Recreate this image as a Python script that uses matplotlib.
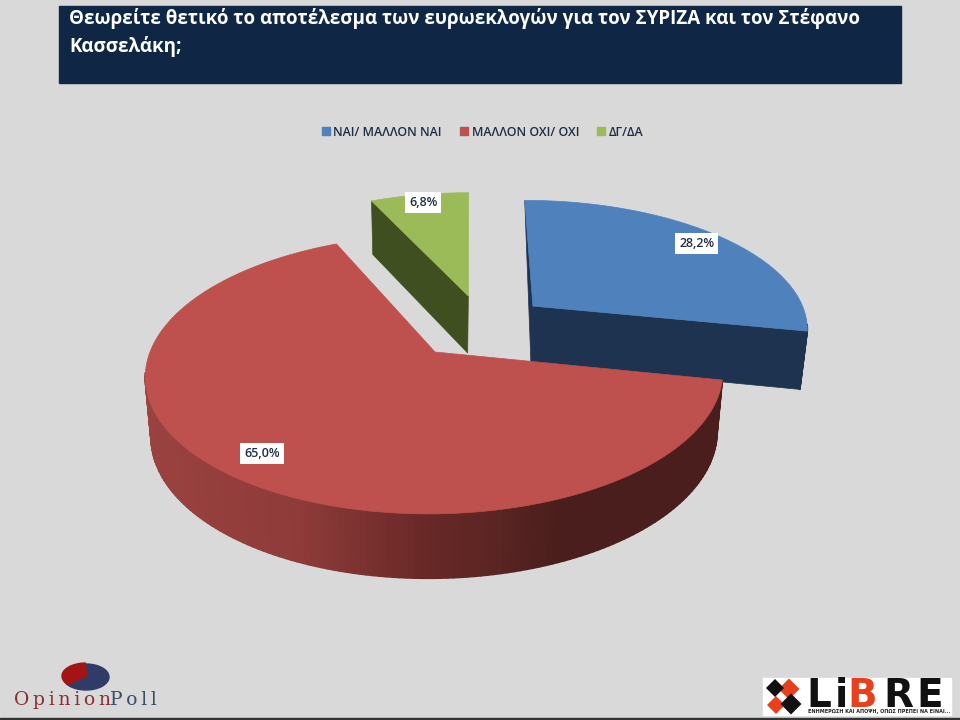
import numpy as np
import matplotlib
matplotlib.use("Agg")
import matplotlib.pyplot as plt
from matplotlib.collections import PolyCollection
from matplotlib.colors import LinearSegmentedColormap
from matplotlib.patches import Ellipse, Patch, Polygon, Rectangle

title = "Θεωρείτε θετικό το αποτέλεσμα των ευρωεκλογών για τον ΣΥΡΙΖΑ και τον Στέφανο\nΚασσελάκη;"
categories = ["ΝΑΙ/ ΜΑΛΛΟΝ ΝΑΙ", "ΜΑΛΛΟΝ ΟΧΙ/ ΟΧΙ", "ΔΓ/ΔΑ"]
values = [28.2, 65.0, 6.8]
labels = ["28,2%", "65,0%", "6,8%"]

top_colors = ["#4f81bd", "#be504d", "#9bbb59"]
side_colors = ["#1d3350", "#4d1f1d", "#3f4f20"]
# slice offsets in the plane of the pie, and where the label sits along the radius
offsets = [(0.356, 0.357), (0.0, 0.0), (0.1164, 0.441)]
label_r = [0.875, 0.85, 0.91]

BG = "#d9d9d9"
NAVY = "#0f2744"
INK = "#1f2d45"

# pie projection, pixels
CX, CY = 435, 352
RX, RY = 285, 136
K = 0.16
SKEW = 0.02
DEPTH = 59
SHRINK = 0.98


def project(u, v):
    w = 1 + K * v
    return CX + RX * (u + SKEW * v) / w, CY - RY * v / w


def lower(u, v):
    # same point on the underside of the pie
    x, y = project(u, v)
    return CX + (x - CX) * SHRINK, y + DEPTH / np.sqrt(1 + K * v)


def rim(theta, off):
    return np.sin(theta) + off[0], np.cos(theta) + off[1]


def diamond(cx, cy, r):
    return [(cx - r, cy), (cx, cy - r), (cx + r, cy), (cx, cy + r)]


fig = plt.figure(figsize=(9.6, 7.2), dpi=100, facecolor=BG)
ax = fig.add_axes([0, 0, 1, 1])
ax.set_xlim(0, 960)
ax.set_ylim(720, 0)
ax.axis("off")

# header
ax.add_patch(Rectangle((59, 6), 842, 77, color=NAVY, zorder=1))
ax.text(69, 8, title, color="white", fontsize=13.5, fontweight="bold", family="Open Sans",
        va="top", ha="left", linespacing=1.42, zorder=2)

# legend
handles = [Patch(color=c, label=n) for c, n in zip(top_colors, categories)]
ax.legend(handles=handles, ncol=3, loc="center", bbox_to_anchor=(482.5, 132),
          bbox_transform=ax.transData, frameon=False, handlelength=0.65, handleheight=0.65,
          handletextpad=0.3, columnspacing=1.45,
          prop={"family": "Open Sans", "size": 8.9, "weight": "semibold"},
          labelcolor=INK)

# pie
edges = np.cumsum([0] + values) / sum(values) * 2 * np.pi
red_wall = LinearSegmentedColormap.from_list(
    "wall", [(0, "#9a4240"), (0.27, "#8e3b39"), (0.5, "#672826"), (0.62, "#5a2523"), (0.72, "#4a1e1c"), (1, "#4a1e1c")])


def draw_slice(i, z):
    t0, t1 = edges[i], edges[i + 1]
    off = offsets[i]
    thetas = np.linspace(t0, t1, 200)
    us, vs = rim(thetas, off)
    xt, yt = project(us, vs)
    xb, yb = lower(us, vs)
    ax0, ay0 = project(off[0], off[1])
    bx0, by0 = lower(off[0], off[1])

    # cut faces
    if i == 0:
        ax.add_patch(Polygon([(ax0, ay0), (xt[0], yt[0]), (bx0, by0)], color=side_colors[i], lw=0.5, zorder=z))
        ax.add_patch(Polygon([(ax0, ay0), (xt[-1], yt[-1]), (xb[-1], yb[-1]), (bx0, by0)],
                             color=side_colors[i], lw=0.5, zorder=z))
    elif i == 2:
        ax.add_patch(Polygon([(ax0, ay0), (xt[0], yt[0]), (xb[0], yb[0]), (bx0, by0)],
                             color=side_colors[i], lw=0.5, zorder=z))

    # outer wall, only the part that faces the viewer
    front = np.flatnonzero(np.cos(thetas) < -K + 0.02)
    if len(front) > 1:
        strips = [[(xt[j], yt[j]), (xt[j + 1], yt[j + 1]), (xb[j + 1], yb[j + 1]), (xb[j], yb[j])]
                  for j in front[:-1]]
        if i == 1:
            cols = red_wall((xt[front[:-1]] - xt.min()) / (xt.max() - xt.min()))
        else:
            cols = side_colors[i]
        ax.add_collection(PolyCollection(strips, facecolors=cols, edgecolors=cols, linewidths=1.2, zorder=z))

    # top
    ax.add_patch(Polygon(np.r_[[(ax0, ay0)], np.c_[xt, yt]], color=top_colors[i], lw=0.5, zorder=z + 1))


for i, z in zip([2, 0, 1], [3, 5, 7]):
    draw_slice(i, z)

mids = (edges[:-1] + edges[1:]) / 2
for i, txt in enumerate(labels):
    u = offsets[i][0] + label_r[i] * np.sin(mids[i])
    v = offsets[i][1] + label_r[i] * np.cos(mids[i])
    x, y = project(u, v)
    ax.text(x, y, txt, color=INK, fontsize=9, fontweight="semibold", family="Open Sans", ha="center", va="center",
            bbox=dict(facecolor="white", edgecolor="none", pad=2.9), zorder=10)

# OpinionPoll logo
ax.add_patch(Ellipse((86, 677), 46, 26, color="#2f3c68", zorder=2))
arc = np.radians(np.linspace(92, 222, 40))
ax.add_patch(Polygon(np.r_[[(86.5, 676)], np.c_[86 + 24 * np.cos(arc), 676 - 13 * np.sin(arc)]],
                     color="#a31515", zorder=3))
ax.text(14, 705, "O\u2009p\u2009i\u2009n\u2009i\u2009o\u2009n", color="#8b2f2f", fontsize=13.5,
        family="DejaVu Serif", va="baseline")
ax.text(110, 705, "P\u2009o\u2009l\u2009l", color="#3a4a6b", fontsize=13.5, family="DejaVu Serif", va="baseline")

# LiBRE logo
ax.add_patch(Rectangle((763, 678), 188, 37, color="white", zorder=2))
for pts, col in [
    (diamond(789, 689, 10.5), "#e8401c"),
    (diamond(776, 705, 9), "#e8401c"),
    (diamond(775, 688, 9), "#111111"),
    (diamond(791, 704, 10.5), "#111111"),
    (diamond(783, 696.5, 2.5), "white"),
]:
    ax.add_patch(Polygon(pts, color=col, lw=0, zorder=3))
for x, ch, col in [(806, "L", "#111111"), (835, "i", "#111111"), (847, "B", "#e8401c"),
                   (883, "R", "#111111"), (916, "E", "#111111")]:
    ax.text(x, 707, ch, color=col, fontsize=28, fontweight="bold", family="DejaVu Sans",
            va="baseline", ha="left", zorder=4)
ax.text(808, 713.5, "ΕΝΗΜΕΡΩΣΗ ΚΑΙ ΑΠΟΨΗ, ΟΠΩΣ ΠΡΕΠΕΙ ΝΑ ΕΙΝΑΙ...", color="#222222", fontsize=3.5,
        fontweight="bold", family="DejaVu Sans", va="baseline", ha="left", zorder=4)

# dark line at the bottom of the slide
ax.add_patch(Rectangle((0, 718), 960, 2, color="#333333", zorder=2))

fig.savefig("out.png", dpi=100, facecolor=BG)
